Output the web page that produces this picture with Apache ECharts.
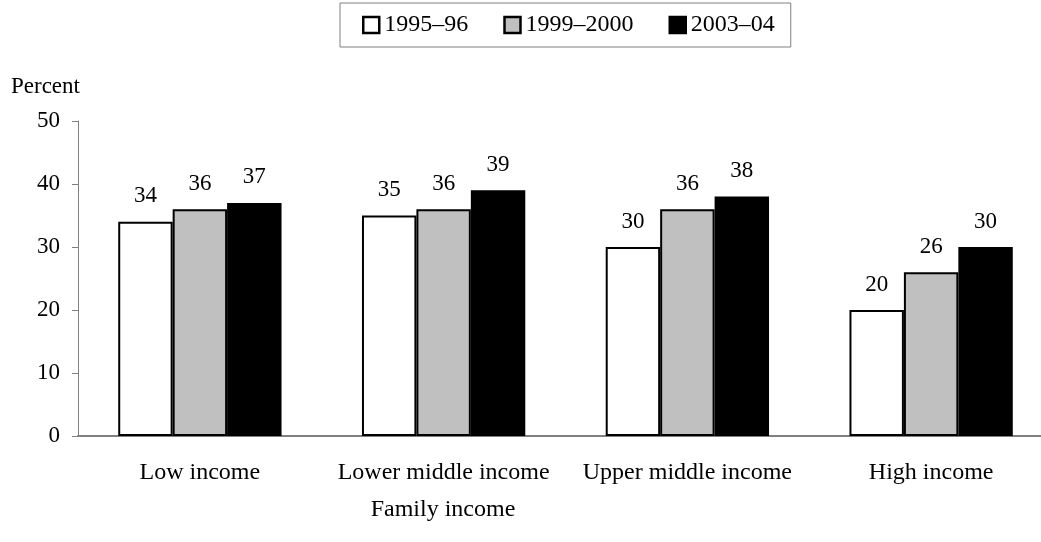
<!DOCTYPE html>
<html>
<head>
<meta charset="utf-8">
<script src="https://cdn.jsdelivr.net/npm/echarts@6/dist/echarts.min.js"></script>
<style>
html,body{margin:0;padding:0;background:#fff;}
#chart{width:1041px;height:542px;}
</style>
</head>
<body>
<div id="chart"></div>
<script>
const categories = ['Low income', 'Lower middle income', 'Upper middle income', 'High income'];
const seriesNames = ['1995\u201396', '1999\u20132000', '2003\u201304'];
const values1995 = [34, 35, 30, 20];
const values1999 = [36, 36, 36, 26];
const values2003 = [37, 39, 38, 30];
const yTicks = [0, 10, 20, 30, 40, 50];

const FONT = '"Liberation Serif", "Times New Roman", serif';
const fills = ['#ffffff', '#c0c0c0', '#000000'];
const dataSets = [values1995, values1999, values2003];

const chart = echarts.init(document.getElementById('chart'), null, {renderer: 'canvas'});
chart.setOption({
  animation: false,
  backgroundColor: '#ffffff',
  textStyle: {fontFamily: FONT, color: '#000'},
  legend: {
    left: 340, top: 3,
    padding: [10, 16, 10, 22],
    borderColor: '#808080', borderWidth: 1,
    icon: 'rect',
    itemWidth: 16, itemHeight: 16, itemGap: 35,
    itemStyle: {borderWidth: 2.5, borderColor: '#000'},
    textStyle: {fontFamily: FONT, fontSize: 24, color: '#000'},
    data: seriesNames
  },
  grid: {left: 78, top: 121, width: 975, bottom: 106, containLabel: false, outerBoundsMode: 'none'},
  xAxis: {
    type: 'category',
    data: categories,
    axisLine: {lineStyle: {color: '#808080', width: 2}},
    axisTick: {show: false},
    axisLabel: {interval: 0, fontFamily: FONT, fontSize: 24, color: '#000', margin: 25}
  },
  yAxis: {
    type: 'value',
    min: 0, max: 50, interval: 10,
    axisLine: {show: true, lineStyle: {color: '#808080', width: 1}},
    axisTick: {show: true, length: 6, inside: false, lineStyle: {color: '#808080'}},
    splitLine: {show: false},
    axisLabel: {fontFamily: FONT, fontSize: 23, color: '#000', margin: 18,
      formatter: v => yTicks.includes(v) ? String(v) : ''}
  },
  series: seriesNames.map((name, i) => ({
    name: name,
    type: 'bar',
    data: dataSets[i],
    barGap: '0%',
    barCategoryGap: '33%',
    itemStyle: {color: fills[i], borderColor: '#000', borderWidth: 2},
    label: {show: true, position: 'top', distance: 14, fontFamily: FONT, fontSize: 23, color: '#000'}
  })),
  graphic: [
    {type: 'text', left: 11, top: 75, style: {text: 'Percent', font: '23px ' + FONT, fill: '#000'}},
    {type: 'text', x: 443, y: 510, style: {text: 'Family income', font: '24px ' + FONT, fill: '#000', textAlign: 'center', textVerticalAlign: 'middle'}}
  ]
});
</script>
</body>
</html>
